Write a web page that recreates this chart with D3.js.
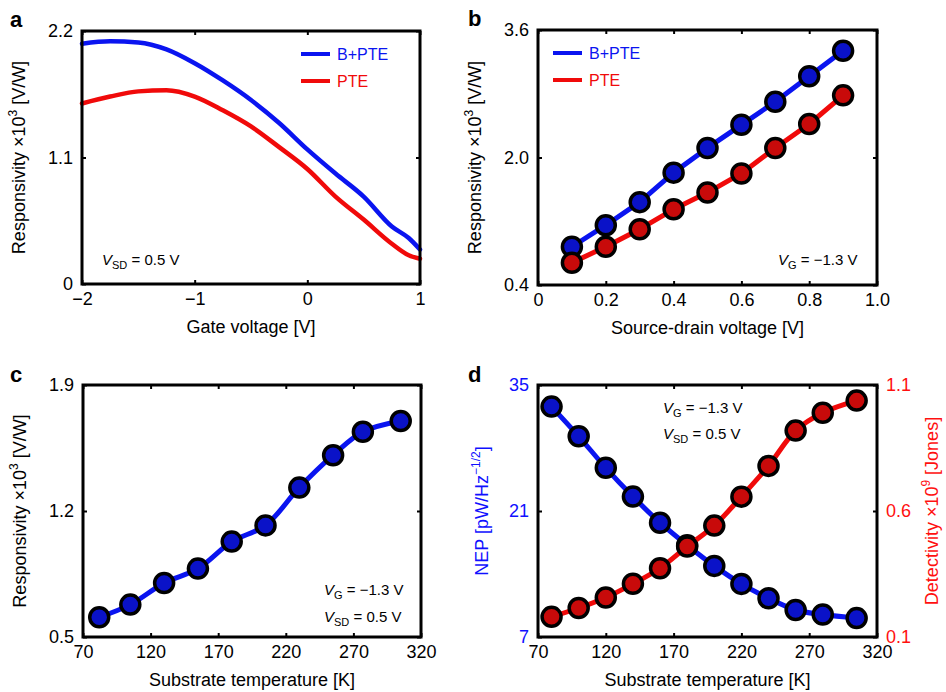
<!DOCTYPE html>
<html>
<head>
<meta charset="utf-8">
<script src="https://cdn.jsdelivr.net/npm/d3@7"></script>
<style>
  body { margin: 0; background: #fff; }
  svg text { font-family: "Liberation Sans", Arial, sans-serif; }
</style>
</head>
<body>
<svg id="fig" width="946" height="692"></svg>
<script>
// panel a: responsivity vs gate voltage
const gateV   = [-2, -1.75, -1.5, -1.25, -1, -0.75, -0.5, -0.25, 0, 0.25, 0.5, 0.75, 0.9, 1]
const aBPTE   = [2.09, 2.11, 2.10, 2.04, 1.92, 1.77, 1.60, 1.40, 1.17, 0.96, 0.76, 0.50, 0.40, 0.30]
const aPTE    = [1.57, 1.63, 1.675, 1.685, 1.63, 1.51, 1.37, 1.19, 1.00, 0.76, 0.56, 0.35, 0.25, 0.22]
const aTicksX = [-2, -1, 0, 1]
const aLabelsX = ['\u22122', '\u22121', '0', '1']
const aTicksY = [0, 1.1, 2.2]
const aLabelsY = ['0', '1.1', '2.2']

// panel b: responsivity vs source-drain voltage
const sdV     = [0.1, 0.2, 0.3, 0.4, 0.5, 0.6, 0.7, 0.8, 0.9]
const bBPTE   = [0.88, 1.15, 1.44, 1.81, 2.12, 2.41, 2.70, 3.02, 3.34]
const bPTE    = [0.68, 0.88, 1.10, 1.35, 1.56, 1.80, 2.12, 2.42, 2.78]
const bTicksX = [0, 0.2, 0.4, 0.6, 0.8, 1.0]
const bLabelsX = ['0', '0.2', '0.4', '0.6', '0.8', '1.0']
const bTicksY = [0.4, 2.0, 3.6]
const bLabelsY = ['0.4', '2.0', '3.6']

// panel c: responsivity vs temperature
const cTemp   = [82, 105, 130, 155, 180, 205, 230, 255, 277, 305]
const cResp   = [0.61, 0.68, 0.80, 0.88, 1.03, 1.12, 1.33, 1.51, 1.64, 1.70]
const cTicksY = [0.5, 1.2, 1.9]

// panel d: NEP and detectivity vs temperature
const dTemp   = [80, 100, 120, 140, 160, 180, 200, 220, 240, 260, 280, 305]
const dNEP    = [32.6, 29.3, 25.8, 22.6, 19.7, 17.2, 14.9, 12.9, 11.3, 10.0, 9.5, 9.1]
const dDet    = [0.18, 0.215, 0.257, 0.311, 0.373, 0.459, 0.542, 0.657, 0.779, 0.919, 0.990, 1.038]
const dTicksYL = [7, 21, 35]
const dTicksYR = [0.1, 0.6, 1.1]
const tempTicks = [70, 120, 170, 220, 270, 320]

const blueLine = '#0a14f0', redLine = '#f00a0a'
const blueDot = '#0a12c8', redDot = '#c80a0a'
const legendNames = ['B+PTE', 'PTE']

let svg = d3.select('svg#fig')

function panel(box, xDom, yDom, opts) {
    let g = svg.append('g').attr('transform', 'translate(' + box.left + ',' + box.top + ')')
    let w = box.right - box.left, h = box.bottom - box.top
    let x = d3.scaleLinear().domain(xDom).range([0, w])
    let y = d3.scaleLinear().domain(yDom).range([h, 0])

    let xb = d3.axisBottom(x).tickValues(opts.xt).tickSize(-4).tickPadding(8)
    if (opts.xl) xb.tickFormat((d, i) => opts.xl[i])
    g.append('g').attr('class', 'ax').attr('transform', 'translate(0,' + h + ')').call(xb)
    g.append('g').attr('class', 'ax').call(d3.axisTop(x).tickValues(opts.xt).tickSize(-4).tickFormat(''))

    let yl = d3.axisLeft(y).tickValues(opts.yt).tickSize(-4).tickPadding(9)
    if (opts.yl) yl.tickFormat((d, i) => opts.yl[i])
    g.append('g').attr('class', 'ax left').call(yl)
    if (!opts.noRight)
        g.append('g').attr('class', 'ax').attr('transform', 'translate(' + w + ',0)')
         .call(d3.axisRight(y).tickValues(opts.yt).tickSize(-4).tickFormat(''))

    g.selectAll('.ax .domain').remove()
    g.selectAll('.ax line').attr('stroke', '#000').attr('stroke-width', 2)
    g.selectAll('.ax text').attr('font-size', 18).attr('fill', '#000')

    return {g, x, y, w, h}
}

function frame(p) {
    p.g.append('rect').attr('width', p.w).attr('height', p.h)
       .attr('fill', 'none').attr('stroke', '#000').attr('stroke-width', 3)
}

function series(p, xs, ys, y, color, width, curve) {
    let line = d3.line().x((d, i) => p.x(xs[i])).y(d => y(d)).curve(curve || d3.curveLinear)
    p.g.append('path').datum(ys).attr('d', line)
       .attr('fill', 'none').attr('stroke', color).attr('stroke-width', width)
       .attr('stroke-linejoin', 'round').attr('stroke-linecap', 'round')
}

function dots(p, xs, ys, y, fill) {
    p.g.append('g').selectAll('circle').data(ys).join('circle')
       .attr('cx', (d, i) => p.x(xs[i])).attr('cy', d => y(d)).attr('r', 9.5)
       .attr('fill', fill).attr('stroke', '#000').attr('stroke-width', 3.5)
}

function legend(p, lx, ly) {
    let colors = [blueLine, redLine]
    legendNames.forEach((name, i) => {
        let yy = ly + i * 27
        p.g.append('line').attr('x1', lx).attr('x2', lx + 29).attr('y1', yy).attr('y2', yy)
           .attr('stroke', colors[i]).attr('stroke-width', 4)
        p.g.append('text').attr('x', lx + 36).attr('y', yy + 6).attr('font-size', 16)
           .attr('fill', colors[i]).text(name)
    })
}

// text like "V_G = −1.3 V"
function vlabel(p, x, y, sub, rest) {
    let t = p.g.append('text').attr('x', x).attr('y', y).attr('font-size', 15).attr('fill', '#000')
    t.append('tspan').attr('font-style', 'italic').text('V')
    t.append('tspan').attr('font-size', 11).attr('dy', 4).text(sub)
    t.append('tspan').attr('dy', -4).text(' = ' + rest)
}

function ylabel(p, cx, text, sup, tail, color) {
    let t = p.g.append('text').attr('transform', 'translate(' + cx + ',' + (p.h / 2) + ') rotate(-90)')
        .attr('text-anchor', 'middle').attr('font-size', 18).attr('fill', color || '#000')
    t.append('tspan').text(text)
    t.append('tspan').attr('font-size', 12).attr('dy', -8).text(sup)
    t.append('tspan').attr('dy', 8).text(tail)
}

function xlabel(p, text) {
    p.g.append('text').attr('x', p.w / 2).attr('y', p.h + 49).attr('text-anchor', 'middle')
       .attr('font-size', 18).text(text)
}

function tag(p, dx, dy, letter) {
    p.g.append('text').attr('x', dx).attr('y', dy).attr('font-size', 22)
       .attr('font-weight', 'bold').text(letter)
}

// ---- a
let pa = panel({left: 82, right: 420, top: 31, bottom: 284}, [-2, 1], [0, 2.2],
               {xt: aTicksX, xl: aLabelsX, yt: aTicksY, yl: aLabelsY})
series(pa, gateV, aPTE, pa.y, redLine, 4.5, d3.curveMonotoneX)
series(pa, gateV, aBPTE, pa.y, blueLine, 4.5, d3.curveMonotoneX)
frame(pa)
legend(pa, 219, 23)
vlabel(pa, 20, 234, 'SD', '0.5 V')
ylabel(pa, -57, 'Responsivity \u00d710', '3', ' [V/W]')
xlabel(pa, 'Gate voltage [V]')
tag(pa, -72, -4, 'a')

// ---- b
let pb = panel({left: 538, right: 877, top: 30, bottom: 285}, [0, 1], [0.4, 3.6],
               {xt: bTicksX, xl: bLabelsX, yt: bTicksY, yl: bLabelsY})
series(pb, sdV, bBPTE, pb.y, blueLine, 5)
series(pb, sdV, bPTE, pb.y, redLine, 5)
dots(pb, sdV, bBPTE, pb.y, blueDot)
dots(pb, sdV, bPTE, pb.y, redDot)
frame(pb)
legend(pb, 15, 23)
vlabel(pb, 240, 235, 'G', '\u22121.3 V')
ylabel(pb, -57, 'Responsivity \u00d710', '3', ' [V/W]')
xlabel(pb, 'Source-drain voltage [V]')
tag(pb, -70, -4, 'b')

// ---- c
let pc = panel({left: 83, right: 421, top: 385, bottom: 637}, [70, 320], [0.5, 1.9], {xt: tempTicks, yt: cTicksY})
series(pc, cTemp, cResp, pc.y, blueLine, 5, d3.curveCatmullRom)
dots(pc, cTemp, cResp, pc.y, blueDot)
frame(pc)
vlabel(pc, 241, 210, 'G', '\u22121.3 V')
vlabel(pc, 241, 237, 'SD', '0.5 V')
ylabel(pc, -57, 'Responsivity \u00d710', '3', ' [V/W]')
xlabel(pc, 'Substrate temperature [K]')
tag(pc, -73, -3, 'c')

// ---- d
let pd = panel({left: 538, right: 877, top: 385, bottom: 637}, [70, 320], [7, 35],
               {xt: tempTicks, yt: dTicksYL, noRight: true})
pd.g.selectAll('.left text').attr('fill', '#1010ff')
let yR = d3.scaleLinear().domain([0.1, 1.1]).range([pd.h, 0])
let rAx = pd.g.append('g').attr('transform', 'translate(' + pd.w + ',0)')
              .call(d3.axisRight(yR).tickValues(dTicksYR).tickSize(-4).tickPadding(9))
rAx.select('.domain').remove()
rAx.selectAll('line').attr('stroke', '#000').attr('stroke-width', 2)
rAx.selectAll('text').attr('font-size', 18).attr('fill', '#ff1010')
series(pd, dTemp, dNEP, pd.y, blueLine, 5, d3.curveCatmullRom)
dots(pd, dTemp, dNEP, pd.y, blueDot)
series(pd, dTemp, dDet, yR, redLine, 5, d3.curveCatmullRom)
dots(pd, dTemp, dDet, yR, redDot)
frame(pd)
vlabel(pd, 125, 28, 'G', '\u22121.3 V')
vlabel(pd, 125, 54, 'SD', '0.5 V')
ylabel(pd, -50, 'NEP [pW/Hz', '\u22121/2', ']', '#1010ff')
ylabel(pd, 400, 'Detectivity \u00d710', '9', ' [Jones]', '#ff1010')
xlabel(pd, 'Substrate temperature [K]')
tag(pd, -70, -3, 'd')
</script>
</body>
</html>
